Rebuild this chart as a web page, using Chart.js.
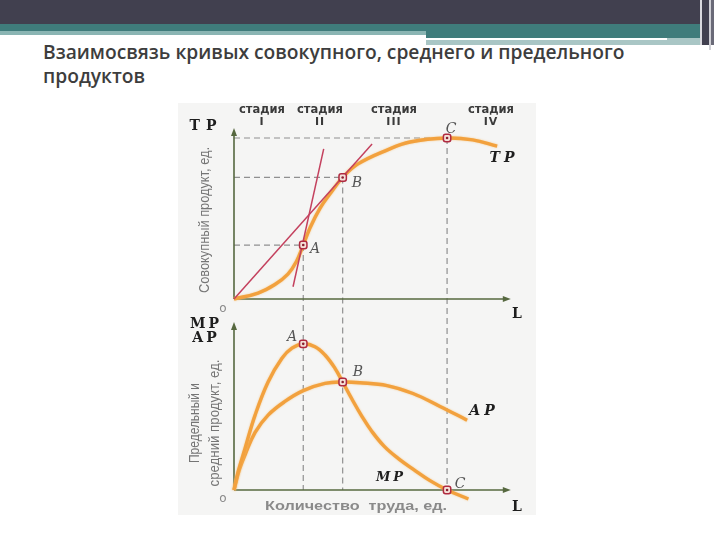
<!DOCTYPE html>
<html><head><meta charset="utf-8">
<script src="https://cdn.jsdelivr.net/npm/chart.js@4"></script>
<style>
html,body{margin:0;padding:0;background:#fff}
body{width:720px;height:540px;overflow:hidden;position:relative}
.b{position:absolute}
#title{left:43px;top:40px;font:600 18px "Open Sans";color:#3d3d3d;line-height:24px;white-space:nowrap}
</style></head><body>
<div class="b" style="left:0;top:0;width:700px;height:24px;background:#41404f"></div>
<div class="b" style="left:0;top:24px;width:700px;height:7px;background:#3f7c7b"></div>
<div class="b" style="left:0;top:31px;width:426px;height:4px;background:#8ab5b3"></div>
<div class="b" style="left:426px;top:31px;width:274px;height:7px;background:#3f7c7b"></div>
<div class="b" style="left:426px;top:38px;width:241px;height:2px;background:#ffffff"></div>
<div class="b" style="left:426px;top:40px;width:274px;height:5px;background:#a9c6c5"></div>
<div class="b" style="left:667px;top:38px;width:33px;height:2px;background:#a9c6c5"></div>
<div class="b" style="left:700px;top:0;width:2px;height:45px;background:#d9d9de"></div>
<div class="b" style="left:702px;top:0;width:7px;height:45px;background:#41404f"></div>
<div class="b" style="left:709px;top:0;width:2px;height:50px;background:#d0d0d6"></div>
<div class="b" style="left:711px;top:0;width:3px;height:45px;background:#6a6a78"></div>
<div id="title" class="b"><span id="t1">Взаимосвязь кривых совокупного, среднего и предельного</span><br>продуктов</div>
<canvas id="c" width="720" height="540" style="position:absolute;left:0;top:0"></canvas>
<script>
// ---- data ----
const stageNames = ['I', 'II', 'III', 'IV'];
const tpL = [0, 1.13, 1.92, 2.53, 2.93, 3.25, 3.57, 4.04, 4.5, 5.1, 5.82, 7.18, 8.26, 10, 11.2, 12.35];
const tpV = [0, 3.7, 9.0, 15.5, 23.3, 33.5, 44.3, 56.5, 65.2, 75.5, 83.9, 92.5, 97.5, 100, 98.8, 95];
const mpL = [0, 0.19, 0.52, 0.99, 1.6, 2.25, 2.72, 3.25, 3.8, 4.27, 4.74, 5.1, 5.54, 6.01, 6.48, 7.04, 7.7, 8.45, 9.2, 10, 11];
const mpV = [0, 2.5, 5.8, 10.4, 15, 18.3, 19.7, 20.3, 19.9, 18.75, 16.9, 15, 12.6, 10.2, 8.1, 6.1, 4.4, 2.8, 1.3, 0, -1.25];
const apL = [0, 0.25, 0.52, 0.99, 1.6, 2.39, 3.25, 4.27, 5.1, 5.92, 7.18, 8.4, 9.67, 10.94];
const apV = [0, 2.8, 4.9, 8.0, 10.4, 12.3, 13.8, 14.8, 15, 14.9, 14.5, 13.4, 11.6, 9.7];
const rayL = [0, 6.48];
const rayV = [0, 96.3];
const tanL = [2.77, 4.21];
const tanV = [7.6, 93.2];
const markNames = ['A', 'B', 'C'];
const markL = [3.25, 5.1, 10];
const markTP = [33.5, 75.5, 100];
const markMP = [20.3, 15, 0];

const pts = (xs, ys) => xs.map((x, i) => ({x, y: ys[i]}));

// title sizing to the reference line width
(function () {
  const t = document.getElementById('title'), s = document.getElementById('t1');
  const w = s.getBoundingClientRect().width;
  t.style.fontSize = (18 * 582 / w).toFixed(2) + 'px';
})();

// ---- layout ----
const AREA_TOP = 100, AREA_BOT = 520;
function yRange(zeroPx, pxPerUnit) {
  const min = -(AREA_BOT - zeroPx) / pxPerUnit;
  return {min, max: min + (AREA_BOT - AREA_TOP) / pxPerUnit};
}
const rT = yRange(299, 1.61);
const rM = yRange(490, 7.2);

const ORANGE = '#f2a13e', RED = '#c4415e', AXIS = '#56683f', DASH = '#909090';

const deco = {
  id: 'deco',
  beforeDraw(chart) {
    const c = chart.ctx;
    c.save();
    c.fillStyle = '#f5f5f4';
    c.fillRect(178, 103, 358, 412);
    c.restore();
  },
  beforeDatasetsDraw(chart) {
    const c = chart.ctx, x = chart.scales.x, yT = chart.scales.yT, yM = chart.scales.yM;
    const x0 = x.getPixelForValue(0), t0 = yT.getPixelForValue(0), m0 = yM.getPixelForValue(0);
    c.save();
    c.strokeStyle = DASH; c.lineWidth = 1.2; c.setLineDash([6, 4]);
    markL.forEach((l, i) => {
      const px = x.getPixelForValue(l), py = yT.getPixelForValue(markTP[i]);
      c.beginPath(); c.moveTo(x0, py); c.lineTo(px, py); c.stroke();
      c.beginPath(); c.moveTo(px, py); c.lineTo(px, m0); c.stroke();
    });
    c.setLineDash([]);
    const xEnd = x.getPixelForValue(12.85);
    function axis(zy, topY) {
      c.strokeStyle = AXIS; c.fillStyle = AXIS; c.lineWidth = 1.6;
      c.beginPath(); c.moveTo(x0, zy); c.lineTo(x0, topY); c.stroke();
      c.beginPath(); c.moveTo(x0, zy); c.lineTo(xEnd, zy); c.stroke();
      c.beginPath(); c.moveTo(x0, topY - 3); c.lineTo(x0 - 3, topY + 5); c.lineTo(x0 + 3, topY + 5); c.closePath(); c.fill();
      c.beginPath(); c.moveTo(xEnd + 3, zy); c.lineTo(xEnd - 5, zy - 3); c.lineTo(xEnd - 5, zy + 3); c.closePath(); c.fill();
    }
    axis(t0, 131);
    axis(m0, 325);
    c.restore();
  },
  beforeDatasetDraw(chart, args) {
    if (chart.data.datasets[args.index].glow) {
      const c = chart.ctx; c.save();
      c.shadowColor = 'rgba(248,190,110,0.8)'; c.shadowBlur = 2;
    }
  },
  afterDatasetDraw(chart, args) {
    if (chart.data.datasets[args.index].glow) chart.ctx.restore();
  },
  afterDraw(chart) {
    const c = chart.ctx;
    c.save();
    c.textAlign = 'center'; c.textBaseline = 'middle';
    function txt(s, px, py, font, color, spacing) {
      c.font = font; c.fillStyle = color;
      c.letterSpacing = spacing || '0px';
      c.fillText(s, px, py);
      c.letterSpacing = '0px';
    }
    function fit(s, px, py, font, color, width, rotate) {
      c.save(); c.translate(px, py);
      if (rotate) c.rotate(-Math.PI / 2);
      c.font = font;
      const k = width / c.measureText(s).width;
      c.scale(k, 1);
      txt(s, 0, 0, font, color);
      c.restore();
    }
    const stageX = [262, 320, 394, 491];
    stageNames.forEach((s, i) => {
      fit('стадия', stageX[i], 110, 'bold 11.5px "DejaVu Sans"', '#3a3a3a', 46);
      txt(s, stageX[i], 122, 'bold 11px "DejaVu Sans"', '#3a3a3a', '1px');
    });
    txt('TP', 206, 126, 'bold 14px "DejaVu Serif"', '#1e1e1e', '6px');
    txt('TP', 504, 158, 'italic bold 14px "DejaVu Serif"', '#1e1e1e', '4px');
    txt('MP', 206, 324, 'bold 14px "DejaVu Serif"', '#1e1e1e', '3px');
    txt('AP', 206, 338, 'bold 14px "DejaVu Serif"', '#1e1e1e', '3px');
    txt('MP', 391, 478, 'italic bold 13px "DejaVu Serif"', '#1e1e1e', '3px');
    txt('AP', 484, 411, 'italic bold 14px "DejaVu Serif"', '#1e1e1e', '4px');
    txt('L', 517, 314, 'bold 14px "DejaVu Serif"', '#1e1e1e');
    txt('L', 517, 507, 'bold 14px "DejaVu Serif"', '#1e1e1e');
    txt('o', 223, 309, '12px "DejaVu Sans"', '#8a8a8a');
    txt('o', 223, 499, '12px "DejaVu Sans"', '#8a8a8a');
    fit('Количество  труда, ед.', 356, 506, 'bold 13px "Liberation Sans"', '#8a8a8a', 182);
    const lf = 'italic 14px "DejaVu Serif"', lc = '#555';
    txt(markNames[0], 315, 249, lf, lc);
    txt(markNames[1], 357, 183, lf, lc);
    txt(markNames[2], 451, 129, lf, lc);
    txt(markNames[0], 292, 337, lf, lc);
    txt(markNames[1], 358, 372, lf, lc);
    txt(markNames[2], 460, 484, lf, lc);
    const rf = '14px "Liberation Sans"', rc = '#757575';
    fit('Совокупный продукт, ед.', 205, 220, rf, rc, 146, true);
    fit('Предельный и', 195, 423, rf, rc, 80, true);
    fit('средний продукт, ед.', 215, 423, rf, rc, 127, true);
    c.restore();
  }
};

const markerStyle = {
  showLine: false, pointStyle: 'rectRounded', pointRadius: 4.3,
  pointBackgroundColor: '#f4e0d8', pointBorderColor: '#b02a40', pointBorderWidth: 1.5, order: 1
};
const dotStyle = {showLine: false, pointStyle: 'circle', pointRadius: 1.3, pointBackgroundColor: '#8a1f30', pointBorderWidth: 0, order: 0};
const curveStyle = {showLine: true, borderColor: ORANGE, borderWidth: 3.4, pointRadius: 0, tension: 0.4, glow: true, order: 3, clip: false};
const tangentStyle = {showLine: true, borderColor: RED, borderWidth: 1.5, pointRadius: 0, tension: 0, order: 2, clip: false};

new Chart(document.getElementById('c'), {
  type: 'scatter',
  data: {datasets: [
    Object.assign({label: 'TP', data: pts(tpL, tpV), yAxisID: 'yT'}, curveStyle),
    Object.assign({label: 'MP', data: pts(mpL, mpV), yAxisID: 'yM'}, curveStyle),
    Object.assign({label: 'AP', data: pts(apL, apV), yAxisID: 'yM'}, curveStyle),
    Object.assign({label: 'OB', data: pts(rayL, rayV), yAxisID: 'yT'}, tangentStyle),
    Object.assign({label: 'tanA', data: pts(tanL, tanV), yAxisID: 'yT'}, tangentStyle),
    Object.assign({label: 'marksTP', data: pts(markL, markTP), yAxisID: 'yT'}, markerStyle),
    Object.assign({label: 'marksMP', data: pts(markL, markMP), yAxisID: 'yM'}, markerStyle),
    Object.assign({label: 'dotsTP', data: pts(markL, markTP), yAxisID: 'yT'}, dotStyle),
    Object.assign({label: 'dotsMP', data: pts(markL, markMP), yAxisID: 'yM'}, dotStyle)
  ]},
  options: {
    responsive: false, animation: false, events: [],
    layout: {padding: {left: 234, right: 209, top: AREA_TOP, bottom: 540 - AREA_BOT}},
    plugins: {legend: {display: false}, tooltip: {enabled: false}},
    scales: {
      x: {type: 'linear', min: 0, max: 13, display: false},
      y: {display: false},
      yT: {type: 'linear', position: 'left', min: rT.min, max: rT.max, display: false},
      yM: {type: 'linear', position: 'left', min: rM.min, max: rM.max, display: false}
    }
  },
  plugins: [deco]
});
</script>
</body></html>
